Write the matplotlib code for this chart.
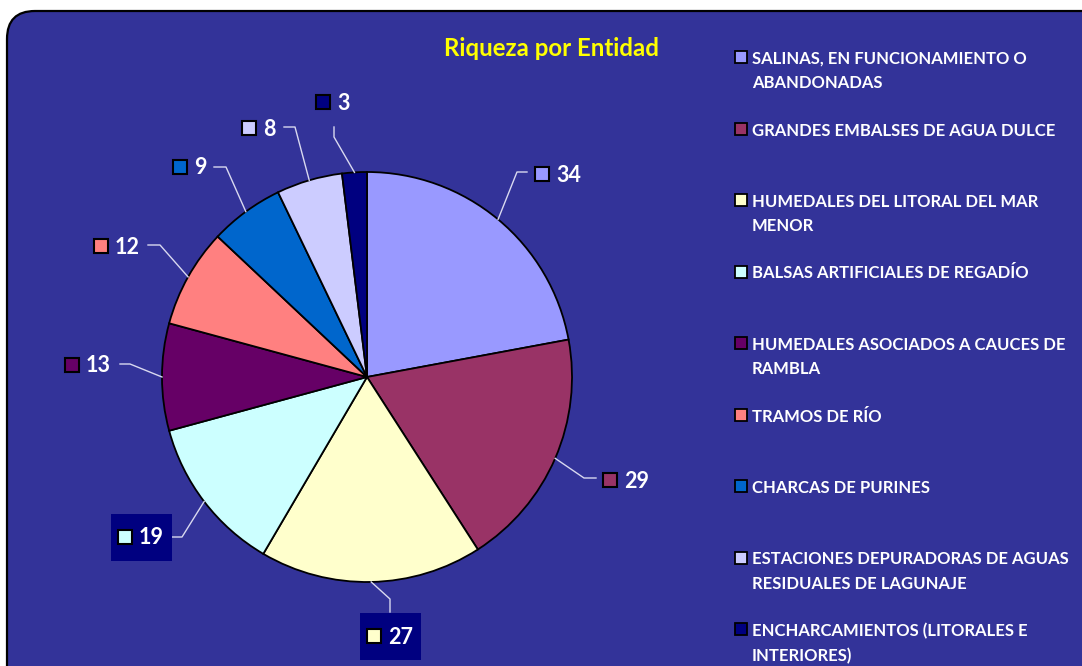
import matplotlib
matplotlib.use("Agg")
import matplotlib.pyplot as plt
from matplotlib.patches import FancyBboxPatch, Rectangle
import numpy as np

plt.rcParams['font.family'] = ['Lato', 'DejaVu Sans']

# datos
categorias = ['SALINAS, EN FUNCIONAMIENTO O\nABANDONADAS',
              'GRANDES EMBALSES DE AGUA DULCE',
              'HUMEDALES DEL LITORAL DEL MAR\nMENOR',
              'BALSAS ARTIFICIALES DE REGADÍO',
              'HUMEDALES ASOCIADOS A CAUCES DE\nRAMBLA',
              'TRAMOS DE RÍO',
              'CHARCAS DE PURINES',
              'ESTACIONES DEPURADORAS DE AGUAS\nRESIDUALES DE LAGUNAJE',
              'ENCHARCAMIENTOS (LITORALES E\nINTERIORES)']
valores = [34, 29, 27, 19, 13, 12, 9, 8, 3]
colores = ['#9999FF', '#993366', '#FFFFCC', '#CCFFFF', '#660066',
           '#FF8080', '#0066CC', '#CCCCFF', '#000080']

# posiciones de las etiquetas (pixeles): codo de la linea, fin de linea, etiqueta
codos = [(517, 172), (584, 478), (390, 599), (182, 537), (130, 364),
         (160, 245), (226, 167), (295, 127), (334, 137)]
finales = [(527, 172), (596, 478), (390, 612), (172, 537), (120, 364),
           (148, 245), (214, 167), (284, 127), (334, 127)]
etiquetas = [(542, 174), (610, 480), (374, 636), (125, 537), (72, 365),
             (101, 246), (180, 167), (249, 128), (323, 102)]
con_caja = [False, False, True, True, False, False, False, False, False]

fondo = '#333399'
W, H = 1082, 666
fig = plt.figure(figsize=(W / 100, H / 100), dpi=100)
fig.patch.set_facecolor('white')
ax = fig.add_axes([0, 0, 1, 1])

# marco redondeado
marco = FancyBboxPatch((7, 11), 1200, 800, boxstyle='round,pad=0,rounding_size=28',
                       facecolor=fondo, edgecolor='black', linewidth=1.6, zorder=0)
ax.add_patch(marco)

cx, cy, r = 367, 377, 205
wedges, _ = ax.pie(valores, colors=colores, startangle=-90, counterclock=True,
                   radius=r, center=(cx, cy), frame=True,
                   wedgeprops=dict(edgecolor='black', linewidth=1.3))
for w in wedges:
    w.set_zorder(2)

for i, w in enumerate(wedges):
    a = np.deg2rad((w.theta1 + w.theta2) / 2)
    x0, y0 = cx + r * np.cos(a), cy + r * np.sin(a)
    xs = [x0, codos[i][0], finales[i][0]]
    ys = [y0, codos[i][1], finales[i][1]]
    ax.plot(xs, ys, color='#D9D9F0', linewidth=1.0, zorder=3)
    lx, ly = etiquetas[i]
    if con_caja[i]:
        ax.add_patch(Rectangle((lx - 14, ly - 23), 61, 47, facecolor='#000080',
                               edgecolor='none', zorder=3))
    ax.add_patch(Rectangle((lx - 7, ly - 7), 14, 14, facecolor=colores[i],
                           edgecolor='black', linewidth=1.5, zorder=4))
    ax.text(lx + 14, ly + 1, str(valores[i]), color='white', fontsize=15.5,
            fontweight='bold', ha='left', va='center', zorder=4)

ax.text(551, 48, 'Riqueza por Entidad', color='#FFFF00', fontsize=17.3,
        fontweight='bold', ha='center', va='center', zorder=4)

# leyenda
ly0 = 57
for i, cat in enumerate(categorias):
    y = ly0 + i * 71.5
    ax.add_patch(Rectangle((735, y - 6), 12, 12, facecolor=colores[i],
                           edgecolor='black', linewidth=1.3, zorder=4))
    ax.text(752, y - 6, cat, color='white', fontsize=12, fontweight='bold',
            ha='left', va='top', linespacing=1.62, zorder=4)

ax.set_xlim(0, W)
ax.set_ylim(H, 0)
ax.set_aspect('equal')
ax.axis('off')

fig.savefig('out.png', dpi=100, facecolor='white')
